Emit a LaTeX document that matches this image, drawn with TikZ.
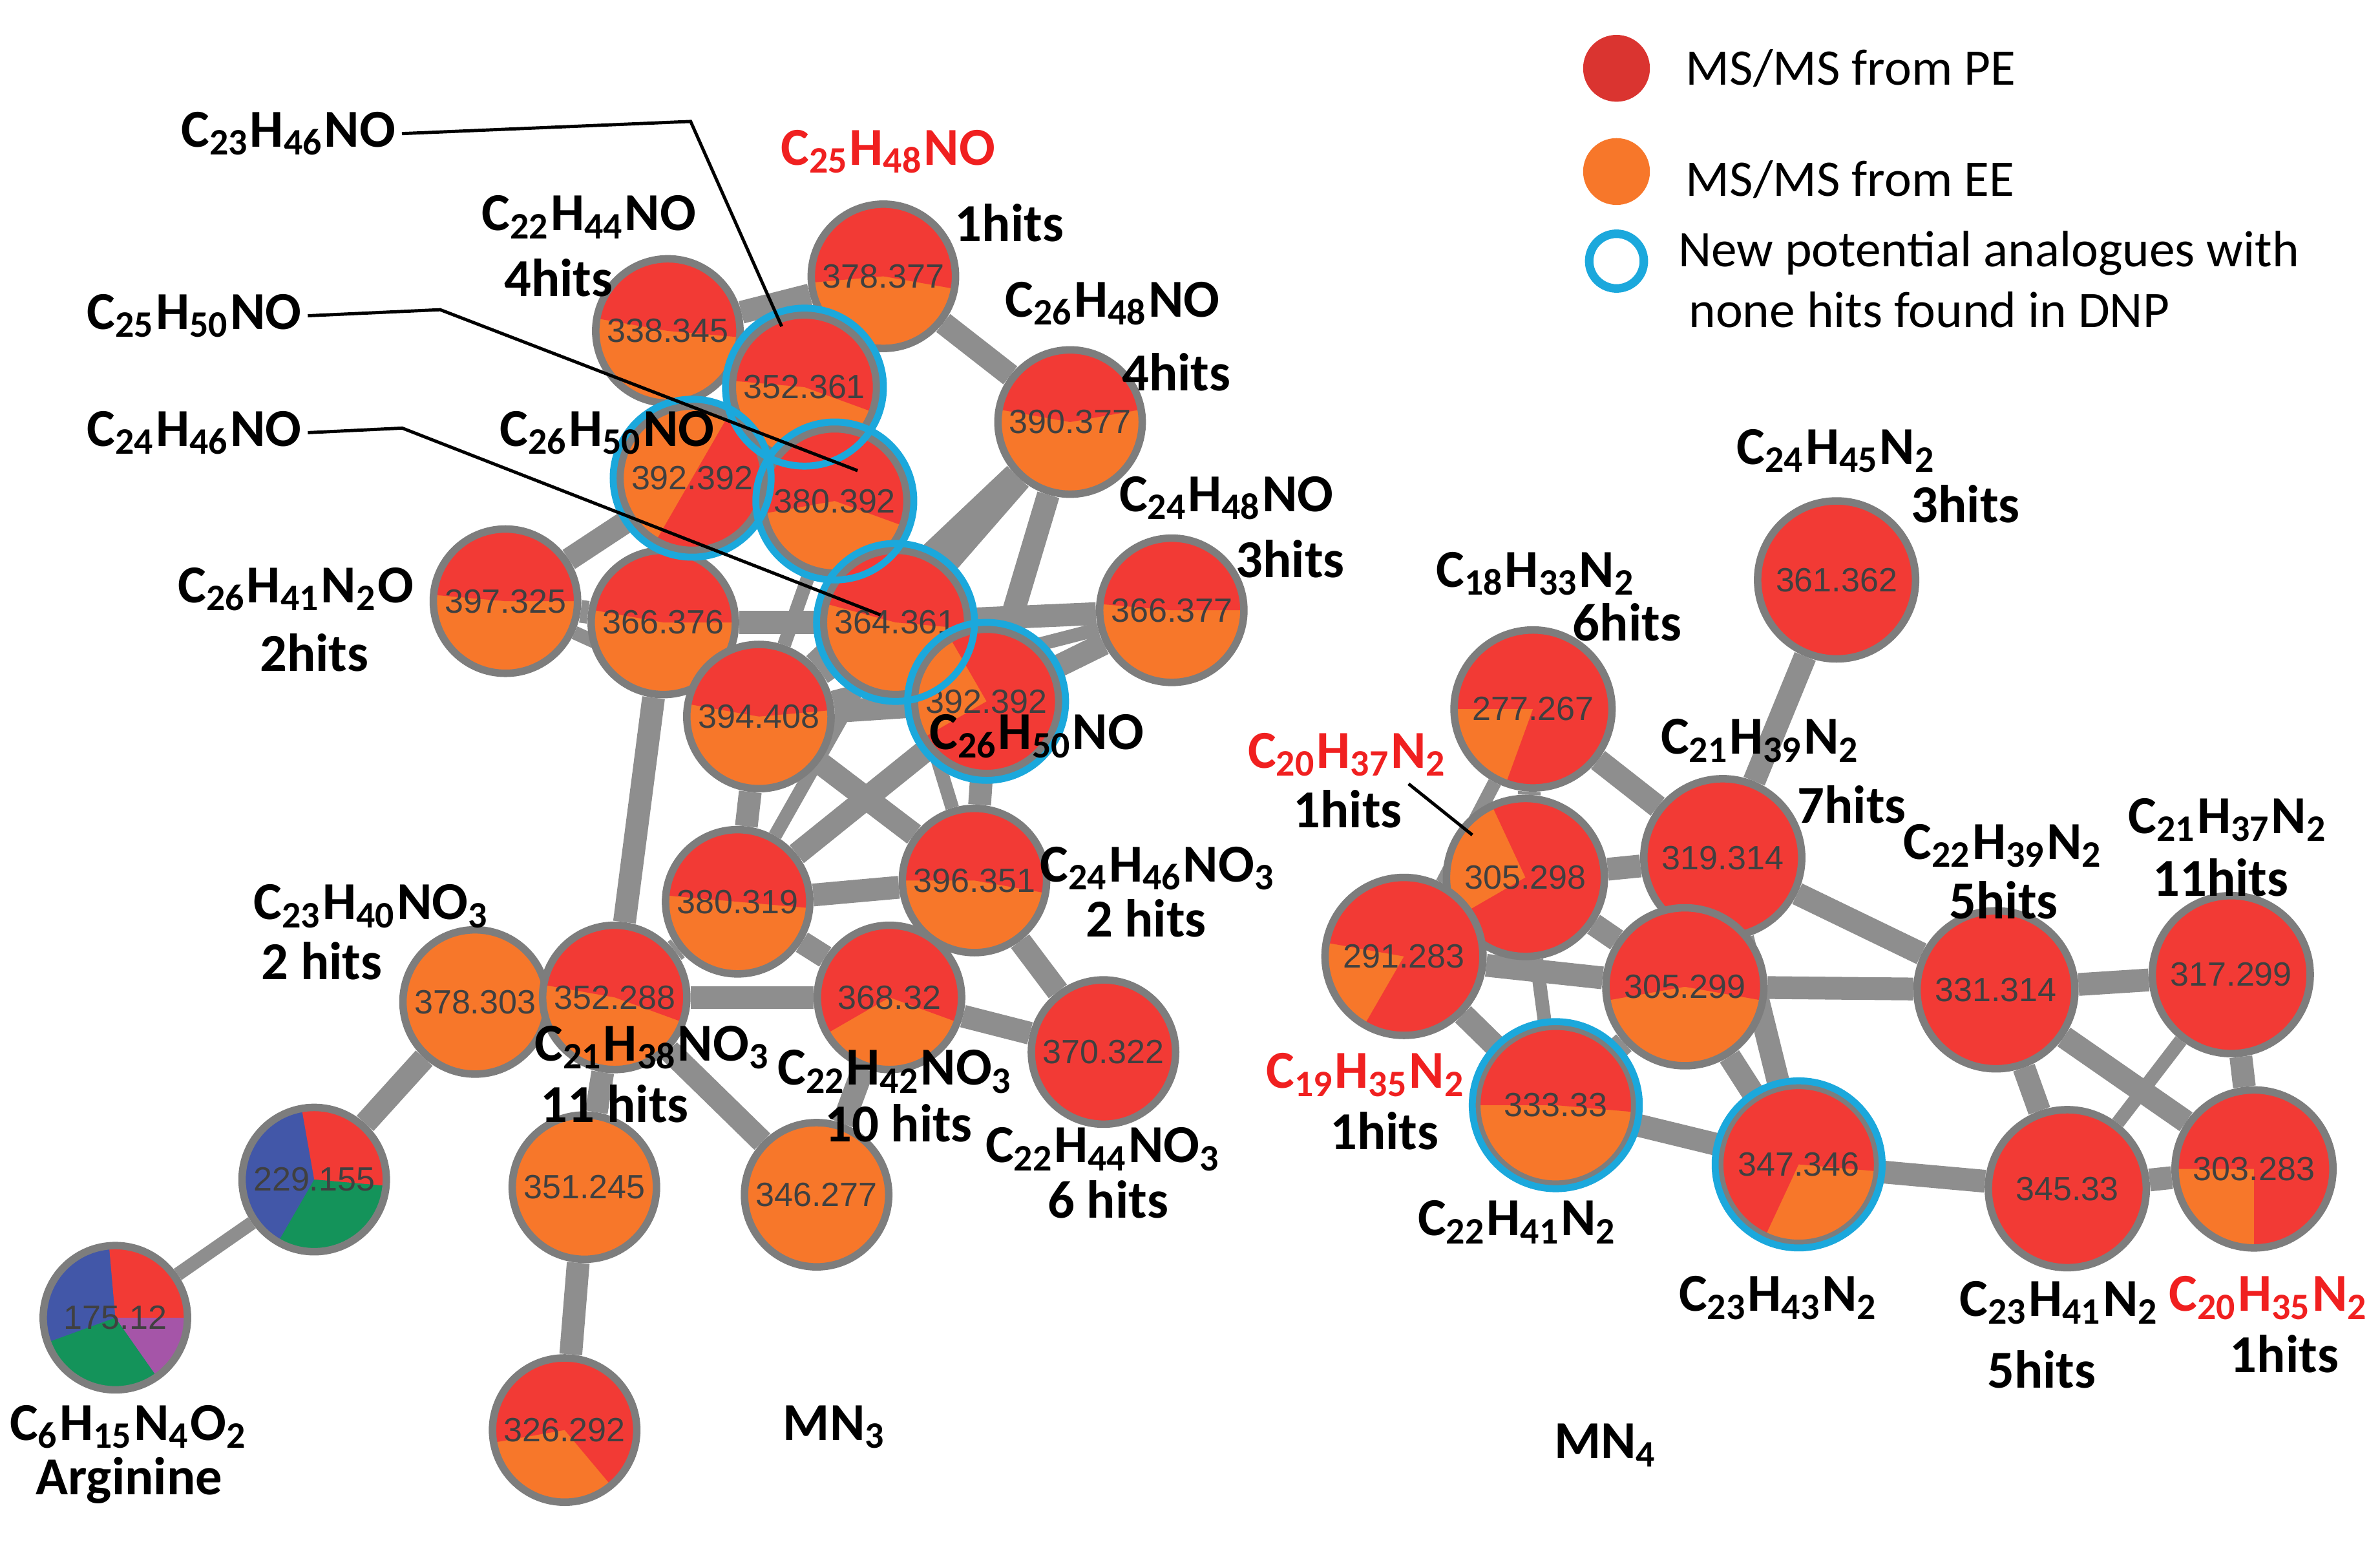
\documentclass[tikz,border=0pt]{standalone}
\usepackage{fontspec}
\setmainfont{Carlito}
\newfontfamily\numfont{Liberation Sans}
\usetikzlibrary{backgrounds}
\definecolor{mred}{HTML}{F23A35}
\definecolor{mor}{HTML}{F7772A}
\definecolor{bg}{HTML}{7D7D7D}
\definecolor{eg}{HTML}{8E8E8E}
\definecolor{cy}{HTML}{1BA8DC}
\definecolor{mblue}{HTML}{4257A8}
\definecolor{mgreen}{HTML}{14935A}
\definecolor{mpur}{HTML}{A555A8}
\definecolor{txr}{HTML}{F02020}
\newcommand\subs[1]{\textsubscript{#1}}
\tikzset{
 nd/.style={circle,minimum size=0.95cm,inner sep=0,draw=bg,line width=1.4pt,fill=mor,
   font=\numfont\fontsize{6.3}{7}\selectfont,text=black!75},
 big/.style={minimum size=1.04cm},
 rd/.style 2 args={path picture={\fill[mred] (path picture bounding box.center) -- ++(#1:1cm) arc[start angle=#1,end angle=#2,radius=1cm] -- cycle;}},
 ed/.style={draw=eg,line width=0.15cm},
 edt/.style={draw=eg,line width=0.09cm},
 ring/.style={draw=cy,line width=1.3pt},
 lb/.style={font=\bfseries\fontsize{10}{12}\selectfont,inner sep=1pt},
 lbr/.style={lb,text=txr},
 leg/.style={font=\fontsize{9.6}{12}\selectfont,anchor=west,inner sep=0},
 cl/.style={draw=black,line width=0.6pt}
}
\begin{document}
\begin{tikzpicture}[x=0.01cm,y=-0.01cm]
\useasboundingbox (0,0) rectangle (1568,1018);
% MN3 nodes
\node[nd,rd={-10}{185}] (A) at (582,182) {378.377};
\node[nd,rd={-5}{170}] (B) at (440,218) {338.345};
\node[nd,rd={-20}{175}] (C) at (530,255) {352.361};
\node[nd,rd={10}{170}] (D) at (705,278) {390.377};
\node[nd,rd={-120}{60}] (E) at (456,315) {392.392};
\node[nd,rd={-20}{190}] (F) at (550,330) {380.392};
\node[nd,rd={0}{175}] (G) at (333,396) {397.325};
\node[nd,rd={0}{170}] (H) at (437,410) {366.376};
\node[nd,rd={-5}{165}] (I) at (590,410) {364.361};
\node[nd,rd={0}{175}] (J) at (772,402) {366.377};
\node[nd,rd={5}{170}] (K) at (500,472) {394.408};
\node[nd,rd={-150}{120}] (L) at (650,462) {392.392};
\node[nd,rd={-5}{175}] (M) at (486,594) {380.319};
\node[nd,rd={-10}{180}] (N) at (642,580) {396.351};
\node[nd] (O) at (313,660) {378.303};
\node[nd,rd={-20}{170}] (P) at (405,657) {352.288};
\node[nd,rd={-20}{210}] (Q) at (586,657) {368.32};
\node[nd,rd={-100}{270}] (R) at (727,693) {370.322};
\node[nd] (T) at (385,782) {351.245};
\node[nd] (U) at (538,787) {346.277};
\node[nd,rd={-50}{190}] (W) at (372,942) {326.292};
\node[nd,fill=mblue,path picture={
  \fill[mred] (path picture bounding box.center) -- ++(100:1cm) arc[start angle=100,end angle=-5,radius=1cm] -- cycle;
  \fill[mgreen] (path picture bounding box.center) -- ++(-5:1cm) arc[start angle=-5,end angle=-120,radius=1cm] -- cycle;}] (S) at (207,777) {229.155};
\node[nd,fill=mblue,path picture={
  \fill[mred] (path picture bounding box.center) -- ++(95:1cm) arc[start angle=95,end angle=0,radius=1cm] -- cycle;
  \fill[mpur] (path picture bounding box.center) -- ++(0:1cm) arc[start angle=0,end angle=-55,radius=1cm] -- cycle;
  \fill[mgreen] (path picture bounding box.center) -- ++(-55:1cm) arc[start angle=-55,end angle=-160,radius=1cm] -- cycle;}] (V) at (76,868) {175.12};
% MN4 nodes
\node[nd,big,rd={-90}{270}] (a) at (1210,382) {361.362};
\node[nd,big,rd={-110}{180}] (b) at (1010,467) {277.267};
\node[nd,big,rd={-150}{115}] (c) at (1005,578) {305.298};
\node[nd,big,rd={-90}{270}] (d) at (1135,565) {319.314};
\node[nd,big,rd={-120}{170}] (e) at (925,630) {291.283};
\node[nd,big,rd={-10}{190}] (f) at (1110,650) {305.299};
\node[nd,big,rd={-90}{270}] (g) at (1315,652) {331.314};
\node[nd,big,rd={-90}{270}] (h) at (1470,642) {317.299};
\node[nd,big,rd={-5}{180}] (i) at (1025,728) {333.33};
\node[nd,big,rd={-5}{245}] (j) at (1185,767) {347.346};
\node[nd,big,rd={-90}{270}] (k) at (1362,783) {345.33};
\node[nd,big,rd={-90}{180}] (l) at (1485,770) {303.283};
% edges
\begin{scope}[on background layer]
\foreach \u/\v in {A/B,A/C,A/D,B/C,B/E,C/E,C/F,D/I,D/L,E/F,E/G,E/H,F/I,G/H,H/I,H/K,I/J,I/L,J/L,K/L,K/M,K/N,L/N,L/M,M/N,M/Q,N/Q,N/R,Q/R,H/P,P/O,P/M,P/Q,O/S,P/T,T/W,P/U,Q/U,D/K,I/K}
  \draw[ed] (\u)--(\v);
\foreach \u/\v in {S/V,G/K,J/K,M/I,N/I,F/K}
  \draw[edt] (\u)--(\v);
\foreach \u/\v in {a/d,b/c,b/d,c/d,c/e,c/f,d/f,e/i,f/i,d/g,f/g,g/h,g/k,g/l,h/l,i/j,j/k,k/l,f/j,d/j,e/f}
  \draw[ed] (\u)--(\v);
\foreach \u/\v in {h/k,c/i,b/e}
  \draw[edt] (\u)--(\v);
\end{scope}
% cyan rings
\foreach \n in {C,E,F,I,L} \draw[ring] (\n) circle (0.52cm);
\foreach \n in {i,j} \draw[ring] (\n) circle (0.55cm);
% labels
\node[lb] (l1) at (190,88) {C\subs{23}H\subs{46}NO};
\node[lbr] (l2) at (585,100) {C\subs{25}H\subs{48}NO};
\node[lb] (l3) at (665,147) {1hits};
\node[lb] (l4) at (388,143) {C\subs{22}H\subs{44}NO};
\node[lb] (l5) at (368,183) {4hits};
\node[lb] (l6) at (128,208) {C\subs{25}H\subs{50}NO};
\node[lb] (l7) at (733,200) {C\subs{26}H\subs{48}NO};
\node[lb] (l8) at (775,245) {4hits};
\node[lb] (l9) at (128,285) {C\subs{24}H\subs{46}NO};
\node[lb] (l10) at (400,285) {C\subs{26}H\subs{50}NO};
\node[lb] (l11) at (1210,297) {C\subs{24}H\subs{45}N\subs{2}};
\node[lb] (l12) at (1295,332) {3hits};
\node[lb] (l13) at (808,328) {C\subs{24}H\subs{48}NO};
\node[lb] (l14) at (850,368) {3hits};
\node[lb] (l15) at (195,388) {C\subs{26}H\subs{41}N\subs{2}O};
\node[lb] (l16) at (207,430) {2hits};
\node[lb] (l17) at (1012,378) {C\subs{18}H\subs{33}N\subs{2}};
\node[lb] (l18) at (1072,410) {6hits};
\node[lb] (l19) at (683,485) {C\subs{26}H\subs{50}NO};
\node[lbr] (l20) at (888,497) {C\subs{20}H\subs{37}N\subs{2}};
\node[lb] (l21) at (888,533) {1hits};
\node[lb] (l22) at (1160,488) {C\subs{21}H\subs{39}N\subs{2}};
\node[lb] (l23) at (1220,530) {7hits};
\node[lb] (l24) at (1320,557) {C\subs{22}H\subs{39}N\subs{2}};
\node[lb] (l25) at (1320,593) {5hits};
\node[lb] (l26) at (1468,540) {C\subs{21}H\subs{37}N\subs{2}};
\node[lb] (l27) at (1463,578) {11hits};
\node[lb] (l28) at (763,572) {C\subs{24}H\subs{46}NO\subs{3}};
\node[lb] (l29) at (755,605) {2 hits};
\node[lb] (l30) at (245,597) {C\subs{23}H\subs{40}NO\subs{3}};
\node[lb] (l31) at (212,633) {2 hits};
\node[lb] (l32) at (430,690) {C\subs{21}H\subs{38}NO\subs{3}};
\node[lb] (l33) at (405,727) {11 hits};
\node[lb] (l34) at (590,706) {C\subs{22}H\subs{42}NO\subs{3}};
\node[lb] (l35) at (592,740) {10 hits};
\node[lb] (l36) at (727,757) {C\subs{22}H\subs{44}NO\subs{3}};
\node[lb] (l37) at (730,790) {6 hits};
\node[lbr] (l38) at (900,708) {C\subs{19}H\subs{35}N\subs{2}};
\node[lb] (l39) at (912,745) {1hits};
\node[lb] (l40) at (1000,805) {C\subs{22}H\subs{41}N\subs{2}};
\node[lb] (l41) at (1172,855) {C\subs{23}H\subs{43}N\subs{2}};
\node[lb] (l42) at (1357,858) {C\subs{23}H\subs{41}N\subs{2}};
\node[lb] (l43) at (1345,902) {5hits};
\node[lbr] (l44) at (1495,855) {C\subs{20}H\subs{35}N\subs{2}};
\node[lb] (l45) at (1505,892) {1hits};
\node[lb] (l46) at (85,940) {C\subs{6}H\subs{15}N\subs{4}O\subs{2}};
\node[lb] (l47) at (85,975) {Arginine};
\node[lb] (l48) at (550,940) {MN\subs{3}};
\node[lb] (l49) at (1058,952) {MN\subs{4}};
% callout lines
\coordinate (k1) at (455,80); \coordinate (e1) at (515,215);
\coordinate (k2) at (290,204); \coordinate (e2) at (565,310);
\coordinate (k3) at (265,282); \coordinate (e3) at (580,405);
\coordinate (e4) at (970,550);
\draw[cl] (l1.east) -- (k1) -- (e1);
\draw[cl] (l6.east) -- (k2) -- (e2);
\draw[cl] (l9.east) -- (k3) -- (e3);
\draw[cl] (l21.north east) -- (e4);
% legend
\node[circle,fill=mred!90!black,minimum size=0.44cm,inner sep=0] (g1) at (1065,45) {};
\node[circle,fill=mor,minimum size=0.44cm,inner sep=0] (g2) at (1065,113) {};
\node[circle,draw=cy,line width=1.6pt,minimum size=0.36cm,inner sep=0] (g3) at (1065,172) {};
\node[leg] (t1) at (1110,45) {MS/MS from PE};
\node[leg] (t2) at (1110,118) {MS/MS from EE};
\node[leg] (t3) at (1105,167) {New potential analogues with};
\node[leg] (t4) at (1112,204) {none hits found in DNP};
\end{tikzpicture}
\end{document}
